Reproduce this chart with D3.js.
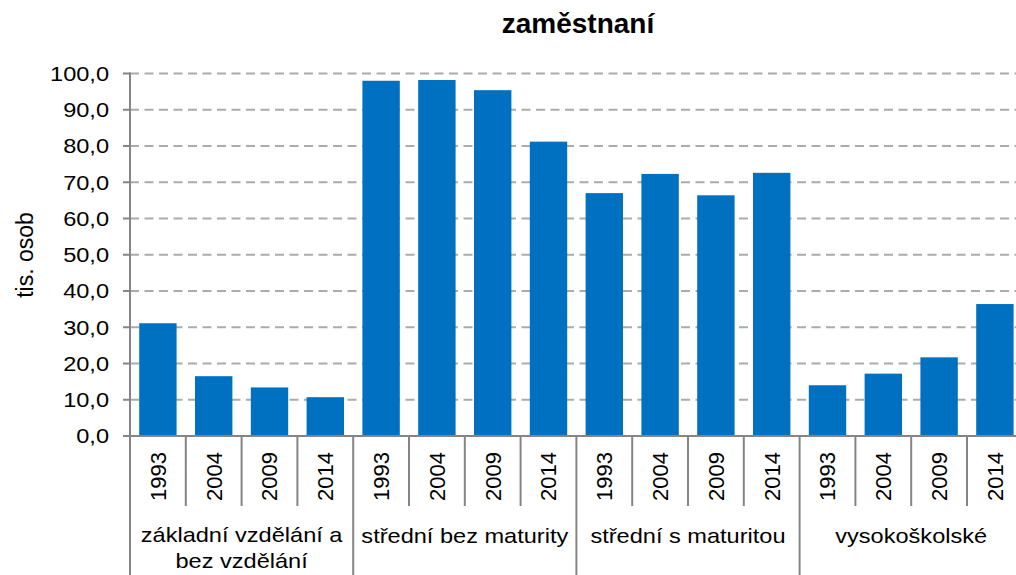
<!DOCTYPE html>
<html><head><meta charset="UTF-8">
	<title>zaměstnaní</title>
	<script src="https://d3js.org/d3.v7.min.js"></script>
	<style>
		body { margin: 0; background: #fff; }
		text { font-family: "Liberation Sans", Arial, sans-serif; fill: #000; }
	</style>
</head>
<body>
	<svg id="target-svg" width="1016" height="575"></svg>
	<script>
		// skupiny vzdělání (popisky na dvou řádcích oddělené \n)
		var groups = ["základní vzdělání a\nbez vzdělání", "střední bez maturity", "střední s maturitou", "vysokoškolské"];
		// roky
		var years = ["1993", "2004", "2009", "2014"];
		// hodnoty (tis. osob)
		var zakladni = [31.1, 16.5, 13.4, 10.7];
		var stredniBez = [98.0, 98.2, 95.4, 81.2];
		var stredniS = [67.0, 72.3, 66.4, 72.6];
		var vysokoskolske = [14.0, 17.2, 21.7, 36.4];
		var yTicks = [0, 10, 20, 30, 40, 50, 60, 70, 80, 90, 100];

		var series = [zakladni, stredniBez, stredniS, vysokoskolske];
		var data = [];
		series.forEach(function(vals, g) {
			vals.forEach(function(v, i) {
				data.push({key: g + "-" + years[i], group: g, year: years[i], value: v});
			});
		});

		var svg = d3.select("svg");

		var x = d3.scaleBand()
			.domain(data.map(function(d) { return d.key; }))
			.range([130, 1022.8])
			.paddingInner(0.33)
			.paddingOuter(0.165);
		var step = x.step();
		var x0 = 130;

		var y = d3.scaleLinear()
			.domain([0, 100])
			.range([436, 73.5]);

		// mřížka
		svg.append("g").selectAll("line")
			.data(yTicks.filter(function(t) { return t > 0; }))
			.enter().append("line")
			.attr("x1", x0).attr("x2", 1016)
			.attr("y1", function(d) { return y(d); })
			.attr("y2", function(d) { return y(d); })
			.attr("stroke", "#ababab")
			.attr("stroke-width", 2)
			.attr("stroke-dasharray", "9,5.5");

		// sloupce
		svg.append("g").selectAll("rect")
			.data(data)
			.enter().append("rect")
			.attr("x", function(d) { return x(d.key); })
			.attr("width", x.bandwidth())
			.attr("y", function(d) { return y(d.value); })
			.attr("height", function(d) { return y(0) - y(d.value); })
			.attr("fill", "#0070c0");

		// osa y
		var yAxis = svg.append("g");
		yAxis.append("line")
			.attr("x1", x0).attr("x2", x0)
			.attr("y1", y(100) - 1).attr("y2", 575)
			.attr("stroke", "#858585").attr("stroke-width", 2);
		yAxis.selectAll(".tick")
			.data(yTicks)
			.enter().append("line")
			.attr("x1", 123).attr("x2", x0)
			.attr("y1", function(d) { return y(d); })
			.attr("y2", function(d) { return y(d); })
			.attr("stroke", "#858585").attr("stroke-width", 2);
		yAxis.selectAll("text")
			.data(yTicks)
			.enter().append("text")
			.attr("transform", function(d) { return "translate(109," + y(d) + ") scale(1.15,1)"; })
			.attr("dy", "0.36em")
			.attr("text-anchor", "end")
			.style("font-size", "20.5px")
			.text(function(d) { return d3.format(".1f")(d).replace(".", ","); });

		// osa x
		var xAxis = svg.append("g");
		xAxis.append("line")
			.attr("x1", x0).attr("x2", 1016)
			.attr("y1", y(0)).attr("y2", y(0))
			.attr("stroke", "#858585").attr("stroke-width", 2);
		// hranice mezi roky a skupinami
		xAxis.selectAll(".sep")
			.data(d3.range(1, 17))
			.enter().append("line")
			.attr("x1", function(i) { return x0 + i * step; })
			.attr("x2", function(i) { return x0 + i * step; })
			.attr("y1", y(0))
			.attr("y2", function(i) { return i % 4 === 0 ? 575 : 506; })
			.attr("stroke", "#858585").attr("stroke-width", 2);
		// roky
		xAxis.selectAll(".year")
			.data(data)
			.enter().append("text")
			.attr("transform", function(d) { return "translate(" + (x(d.key) + x.bandwidth() / 2) + ",452) rotate(-90)"; })
			.attr("dy", "0.36em")
			.attr("text-anchor", "end")
			.style("font-size", "22px")
			.text(function(d) { return d.year; });
		// skupiny
		groups.forEach(function(g, i) {
			var cx = x0 + (i * 4 + 2) * step;
			var lines = g.split("\n");
			lines.forEach(function(l, j) {
				xAxis.append("text")
					.attr("transform", "translate(" + cx + "," + (lines.length > 1 ? 541.5 + j * 26.5 : 542.5) + ") scale(1.15,1)")
					.attr("text-anchor", "middle")
					.style("font-size", "20.5px")
					.text(l);
			});
		});

		// popisek osy y
		svg.append("text")
			.attr("transform", "translate(33,255) rotate(-90)")
			.attr("text-anchor", "middle")
			.style("font-size", "23px")
			.text("tis. osob");

		// nadpis
		svg.append("text")
			.attr("x", 578).attr("y", 33)
			.attr("text-anchor", "middle")
			.style("font-size", "28px")
			.style("font-weight", "bold")
			.text("zaměstnaní");
	</script>
</body></html>
